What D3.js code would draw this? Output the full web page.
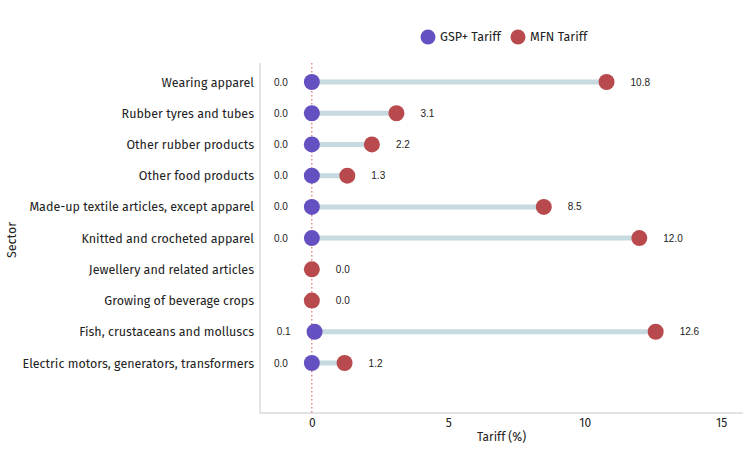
<!DOCTYPE html>
<html>
<head>
<meta charset="utf-8">
<script src="https://cdn.jsdelivr.net/npm/d3@7"></script>
<style>
  body { margin: 0; background: #fff; }
  svg { font-family: "Fira Sans", "Noto Sans", sans-serif; }
</style>
</head>
<body>
<svg id="chart"></svg>
<script>
var width = 750;
var height = 450;

var sectors = ['Wearing apparel', 'Rubber tyres and tubes', 'Other rubber products',
  'Other food products', 'Made-up textile articles, except apparel',
  'Knitted and crocheted apparel', 'Jewellery and related articles',
  'Growing of beverage crops', 'Fish, crustaceans and molluscs',
  'Electric motors, generators, transformers'];
// null = no GSP+ rate shown
var gspTariff = [0.0, 0.0, 0.0, 0.0, 0.0, 0.0, null, null, 0.1, 0.0];
var mfnTariff = [10.8, 3.1, 2.2, 1.3, 8.5, 12.0, 0.0, 0.0, 12.6, 1.2];
var xTicks = [0, 5, 10, 15];

var margin = {top: 63, right: 7, bottom: 37, left: 260};

var xScale = d3.scaleLinear()
                .domain([-1.9, 15.8])
                .range([margin.left, width - margin.right]);

var yScale = d3.scalePoint()
                .domain(sectors)
                .range([82, 363]);

var svg = d3.select('#chart')
    .attr('width', width)
    .attr('height', height);

// axes frame
svg.append('line')
    .attr('x1', margin.left).attr('x2', margin.left)
    .attr('y1', margin.top).attr('y2', height - margin.bottom)
    .attr('stroke', '#c8c8c8');
svg.append('line')
    .attr('x1', margin.left).attr('x2', width - margin.right)
    .attr('y1', height - margin.bottom).attr('y2', height - margin.bottom)
    .attr('stroke', '#c8c8c8');

var xAxis = d3.axisBottom(xScale)
              .tickValues(xTicks)
              .tickSize(0)
              .tickPadding(5);

svg.append('g')
    .attr('transform', 'translate(0,' + (height - margin.bottom) + ')')
    .call(xAxis)
    .call(g => g.select('.domain').remove())
    .selectAll('text')
    .style('font-size', '12px')
    .style('font-family', '"Fira Sans", "Noto Sans", sans-serif')
    .attr('fill', '#222');

var yAxis = d3.axisLeft(yScale)
              .tickSize(0)
              .tickPadding(6);

svg.append('g')
    .attr('transform', 'translate(' + margin.left + ',0)')
    .call(yAxis)
    .call(g => g.select('.domain').remove())
    .selectAll('text')
    .style('font-size', '12.5px')
    .style('font-family', '"Fira Sans", "Noto Sans", sans-serif')
    .attr('fill', '#222');

// zero reference line
svg.append('line')
    .attr('x1', xScale(0)).attr('x2', xScale(0))
    .attr('y1', margin.top).attr('y2', height - margin.bottom)
    .attr('stroke', '#d9534f')
    .attr('stroke-width', 1)
    .attr('stroke-dasharray', '1.5,2.5');

var rows = sectors.map((s, i) => ({sector: s, gsp: gspTariff[i], mfn: mfnTariff[i]}));

svg.selectAll('.connector')
  .data(rows.filter(d => d.gsp !== null))
  .enter()
  .append('line')
    .attr('x1', d => xScale(d.gsp))
    .attr('x2', d => xScale(d.mfn))
    .attr('y1', d => yScale(d.sector))
    .attr('y2', d => yScale(d.sector))
    .attr('stroke', '#c6dae0')
    .attr('stroke-width', 5);

svg.selectAll('.gsp')
  .data(rows.filter(d => d.gsp !== null))
  .enter()
  .append('circle')
    .attr('cx', d => xScale(d.gsp))
    .attr('cy', d => yScale(d.sector))
    .attr('r', 8)
    .attr('fill', '#6450c0');

svg.selectAll('.mfn')
  .data(rows)
  .enter()
  .append('circle')
    .attr('cx', d => xScale(d.mfn))
    .attr('cy', d => yScale(d.sector))
    .attr('r', 8)
    .attr('fill', '#b84a4d');

svg.selectAll('.gspLabel')
  .data(rows.filter(d => d.gsp !== null))
  .enter()
  .append('text')
    .attr('x', d => xScale(d.gsp) - 24)
    .attr('y', d => yScale(d.sector))
    .attr('dy', '0.35em')
    .style('text-anchor', 'end')
    .style('font-family', '"Liberation Sans", Arial, sans-serif')
    .style('font-size', '10px')
    .attr('fill', '#222')
    .text(d => d.gsp.toFixed(1));

svg.selectAll('.mfnLabel')
  .data(rows)
  .enter()
  .append('text')
    .attr('x', d => xScale(d.mfn) + 24)
    .attr('y', d => yScale(d.sector))
    .attr('dy', '0.35em')
    .style('font-family', '"Liberation Sans", Arial, sans-serif')
    .style('font-size', '10px')
    .attr('fill', '#222')
    .text(d => d.mfn.toFixed(1));

// axis titles
svg.append('text')
  .attr('x', (margin.left + width - margin.right) / 2)
  .attr('y', 441)
  .style('text-anchor', 'middle')
  .style('font-size', '12px')
  .attr('fill', '#222')
  .text('Tariff (%)');

svg.append('text')
  .attr('transform', 'rotate(-90)')
  .attr('x', -240)
  .attr('y', 16)
  .style('text-anchor', 'middle')
  .style('font-size', '12.5px')
  .attr('fill', '#222')
  .text('Sector');

// legend
var legend = [{name: 'GSP+ Tariff', color: '#6450c0', x: 428},
              {name: 'MFN Tariff', color: '#b84a4d', x: 518}];

var lg = svg.selectAll('.legend')
  .data(legend)
  .enter()
  .append('g')
    .attr('transform', d => 'translate(' + d.x + ',37)');
lg.append('circle')
    .attr('r', 7.5)
    .attr('fill', d => d.color);
lg.append('text')
    .attr('x', 12)
    .attr('dy', '0.35em')
    .style('font-size', '12.5px')
    .attr('fill', '#222')
    .text(d => d.name);
</script>
</body>
</html>
